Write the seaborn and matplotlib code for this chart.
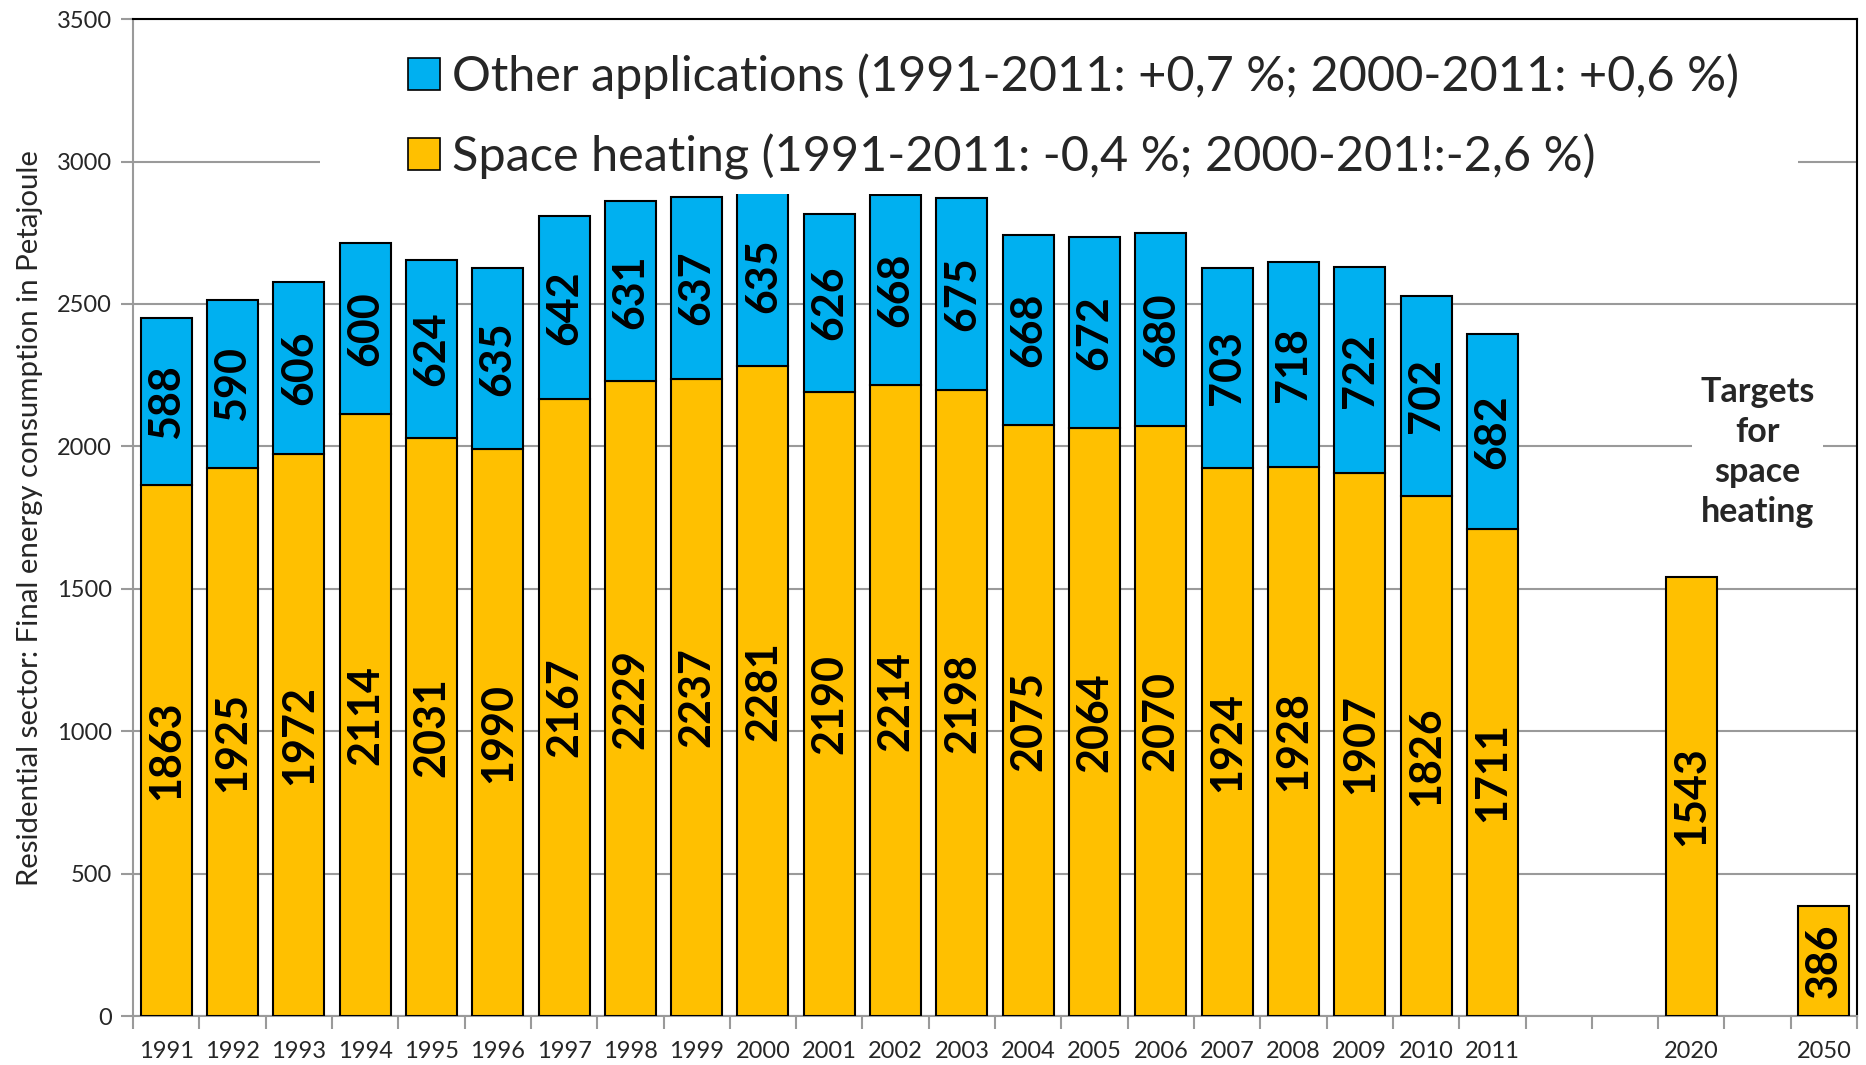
import matplotlib
matplotlib.use("Agg")
import matplotlib.pyplot as plt
import seaborn as sns
import pandas as pd
from matplotlib.lines import Line2D
from matplotlib.ticker import FixedLocator, MultipleLocator

# ---- data ----
years = [str(y) for y in range(1991, 2012)]
space_heating = [1863, 1925, 1972, 2114, 2031, 1990, 2167, 2229, 2237, 2281,
                 2190, 2214, 2198, 2075, 2064, 2070, 1924, 1928, 1907, 1826, 1711]
other_apps = [588, 590, 606, 600, 624, 635, 642, 631, 637, 635,
              626, 668, 675, 668, 672, 680, 703, 718, 722, 702, 682]
target_years = ["2020", "2050"]
target_heating = [1543, 386]

# axis slots (empty slots have blank tick labels)
slot_order = years + ["gap1", "gap2", "2020", "gap3", "2050"]
slot_labels = years + ["", "", "2020", "", "2050"]

legend_other = "Other applications (1991-2011: +0,7 %; 2000-2011: +0,6 %)"
legend_heat = "Space heating (1991-2011: -0,4 %; 2000-201!:-2,6 %)"
ylabel = "Residential sector: Final energy consumption in Petajoule"
targets_note = "Targets\nfor\nspace\nheating"

BLUE = "#00B0F0"
ORANGE = "#FFC000"
GRID = "#9A9A9A"

sns.set_theme(style="white")
plt.rcParams["font.family"] = ["Lato", "DejaVu Sans"]

heat_df = pd.DataFrame({"slot": years + target_years,
                        "value": space_heating + target_heating})
other_df = pd.DataFrame({"slot": years, "value": other_apps})

fig = plt.figure(figsize=(18.66, 10.65), dpi=100)
ax = fig.add_axes([0.0713, 0.046, 0.9239, 0.936])

sns.barplot(data=heat_df, x="slot", y="value", order=slot_order, color=ORANGE,
            saturation=1, width=0.77, edgecolor="black", linewidth=1.5, ax=ax,
            zorder=3)
sns.barplot(data=other_df, x="slot", y="value", order=slot_order, color=BLUE,
            saturation=1, width=0.77, edgecolor="black", linewidth=1.5, ax=ax,
            bottom=space_heating, zorder=3)

# labels inside segments
for cont in ax.containers:
    ax.bar_label(cont, fmt="%d", label_type="center", rotation=90,
                 fontsize=31, fontweight="bold", color="black", zorder=4)

ax.set_ylim(0, 3500)
ax.set_xlim(-0.5, len(slot_order) - 0.5)
ax.yaxis.set_major_locator(MultipleLocator(500))
ax.grid(axis="y", color=GRID, linewidth=1.5, zorder=0)
ax.grid(axis="x", visible=False)
ax.set_axisbelow(True)

# x ticks: marks between slots, labels at slot centres
n = len(slot_order)
ax.xaxis.set_major_locator(FixedLocator([i - 0.5 for i in range(n + 1)]))
ax.xaxis.set_major_formatter(matplotlib.ticker.NullFormatter())
ax.xaxis.set_minor_locator(FixedLocator(list(range(n))))
ax.set_xticklabels(slot_labels, minor=True)
ax.tick_params(axis="x", which="major", bottom=True, length=9, width=1.5,
               color=GRID, direction="out")
ax.tick_params(axis="x", which="minor", bottom=True, length=0, pad=18,
               labelsize=17)
ax.tick_params(axis="y", which="major", left=True, length=9, width=1.5,
               color=GRID, direction="out", labelsize=17, pad=6)
ax.set_xlabel("")
ax.set_ylabel(ylabel, fontsize=21.2)
ax.yaxis.set_label_coords(-0.052, 0.5)

for side in ["left", "bottom"]:
    ax.spines[side].set_color(GRID)
    ax.spines[side].set_linewidth(1.5)
for side in ["top", "right"]:
    ax.spines[side].set_color("black")
    ax.spines[side].set_linewidth(1.5)

# legend
handles = [Line2D([], [], linestyle="none", marker="s", markersize=23,
                  markerfacecolor=BLUE, markeredgecolor="black",
                  markeredgewidth=1.2),
           Line2D([], [], linestyle="none", marker="s", markersize=23,
                  markerfacecolor=ORANGE, markeredgecolor="black",
                  markeredgewidth=1.2)]
leg = ax.legend(handles, [legend_other, legend_heat], loc="upper left",
                bbox_to_anchor=(0.1085, 0.98, 0.857, 0.0), mode="expand",
                borderaxespad=0, fontsize=35, frameon=True, fancybox=False,
                framealpha=1, facecolor="white", edgecolor="none",
                handlelength=3.68, handletextpad=-1.27, borderpad=0.3,
                labelspacing=0.7)
leg.set_zorder(5)

ax.text(24, 1980, targets_note, ha="center", va="center", fontsize=24.5,
        fontweight="bold", linespacing=1.3, zorder=5,
        bbox=dict(facecolor="white", edgecolor="none", pad=6))

fig.savefig("out.png", dpi=100)
